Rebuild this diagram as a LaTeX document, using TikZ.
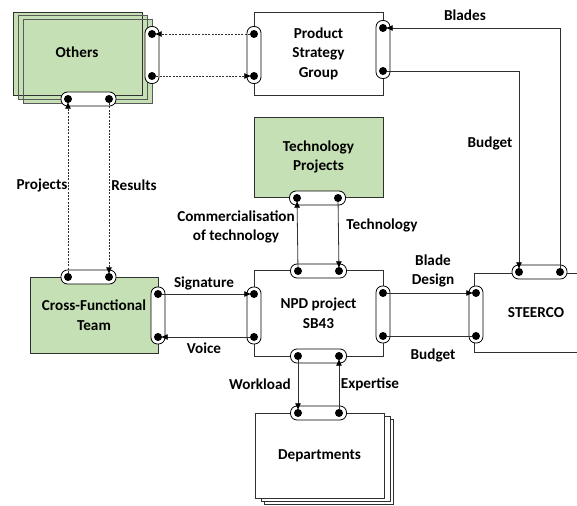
\documentclass[tikz,border=0pt]{standalone}
\usepackage{fontspec}
\setmainfont{Carlito}
\usetikzlibrary{arrows.meta}
\definecolor{lgreen}{HTML}{C5E0B4}
\definecolor{lc}{HTML}{303030}
\tikzset{
  boxline/.style={draw=lc, line width=0.8pt},
  gbox/.style={boxline, fill=lgreen},
  wbox/.style={boxline, fill=white},
  pill/.style={draw=black, fill=white, line width=0.8pt, rounded corners=6.5pt, inner sep=0pt},
  dot/.style={circle, fill=black, minimum size=8pt, inner sep=0pt},
  lbl/.style={font=\bfseries\fontsize{15.2}{19.5}\selectfont, align=center, inner sep=0pt},
  conn/.style={draw=lc, line width=0.8pt},
  dconn/.style={conn, dash pattern=on 2pt off 1.3pt},
  tip/.style={-{Latex[length=7pt,width=6pt,black]}, shorten >=-1.5pt},
}
\begin{document}
\begin{tikzpicture}[x=1pt,y=-1pt]
\useasboundingbox (0,0) rectangle (577,505);
% Others (stacked, translucent)
\fill[lgreen] (13,12) rectangle (142,95);
\fill[lgreen] (18,15) rectangle (147,99);
\fill[lgreen] (23,19) rectangle (152,103);
\draw[draw=lc, line width=0.8pt] (13,12) rectangle (142,95);
\draw[draw=gray!70!black, line width=0.7pt] (18,15) rectangle (147,99);
\draw[draw=gray!70!black, line width=0.7pt] (23,19) rectangle (152,103);
\node[lbl] (others) at (77,52) {Others};
% Product Strategy Group
\node[wbox, minimum width=129pt, minimum height=83pt] (psg) at (318.5,53.5) {};
\node[lbl] at (psg) {Product\\Strategy\\Group};
% Technology Projects
\node[gbox, minimum width=129pt, minimum height=80pt] (tp) at (318.5,157) {};
\node[lbl] at (tp) {Technology\\Projects};
% NPD project
\node[wbox, minimum width=129pt, minimum height=86pt] (npd) at (318.5,313) {};
\node[lbl] at (npd) {NPD project\\SB43};
% Cross-Functional Team
\node[gbox, minimum width=128pt, minimum height=76pt] (cft) at (94,315) {};
\node[lbl] at (cft) {Cross-Functional\\Team};
% STEERCO (cut by the right edge)
\node[lbl] (st) at (536,313) {STEERCO};
\draw[boxline] (577,273) -- (474,273) -- (474,352) -- (577,352);
% Departments (stacked)
\draw[wbox] (264,419) rectangle (393,504);
\draw[wbox] (261,416) rectangle (390,501);
\node[wbox, minimum width=129pt, minimum height=85pt] (dep) at (319.5,455.5) {};
\node[lbl] at (dep) {Departments};

% pills
\node[pill, minimum width=14pt, minimum height=57pt] at (152,55) {};
\node[pill, minimum width=55pt, minimum height=14pt] at (88.5,99) {};
\node[pill, minimum width=14pt, minimum height=57pt] at (254,55) {};
\node[pill, minimum width=14pt, minimum height=58pt] at (383,49.5) {};
\node[pill, minimum width=56pt, minimum height=14pt] at (317.5,198) {};
\node[pill, minimum width=56pt, minimum height=14pt] at (318.5,271) {};
\node[pill, minimum width=14pt, minimum height=57pt] at (383,314.5) {};
\node[pill, minimum width=56pt, minimum height=14pt] at (318.5,356) {};
\node[pill, minimum width=14pt, minimum height=57pt] at (254,315.5) {};
\node[pill, minimum width=14pt, minimum height=57pt] at (158,315.5) {};
\node[pill, minimum width=55pt, minimum height=14pt] at (88.5,277) {};
\node[pill, minimum width=14pt, minimum height=57pt] at (476,314.5) {};
\node[pill, minimum width=55pt, minimum height=14pt] at (539.5,272) {};
\node[pill, minimum width=56pt, minimum height=14pt] at (318.5,413) {};

% dots
\node[dot] (oR1) at (152,34) {};
\node[dot] (oR2) at (152,76) {};
\node[dot] (oB1) at (68,99) {};
\node[dot] (oB2) at (109,99) {};
\node[dot] (pL1) at (254,34) {};
\node[dot] (pL2) at (254,76) {};
\node[dot] (pR1) at (383,28) {};
\node[dot] (pR2) at (383,71) {};
\node[dot] (tB1) at (297,198) {};
\node[dot] (tB2) at (338,198) {};
\node[dot] (nT1) at (298,271) {};
\node[dot] (nT2) at (339,271) {};
\node[dot] (nR1) at (383,293) {};
\node[dot] (nR2) at (383,336) {};
\node[dot] (nB1) at (298,356) {};
\node[dot] (nB2) at (339,356) {};
\node[dot] (nL1) at (254,294) {};
\node[dot] (nL2) at (254,337) {};
\node[dot] (cR1) at (158,294) {};
\node[dot] (cR2) at (158,337) {};
\node[dot] (cT1) at (68,277) {};
\node[dot] (cT2) at (109,277) {};
\node[dot] (sL1) at (476,293) {};
\node[dot] (sL2) at (476,336) {};
\node[dot] (sT1) at (519,272) {};
\node[dot] (sT2) at (560,272) {};
\node[dot] (dT1) at (298,413) {};
\node[dot] (dT2) at (339,413) {};

% connectors
\draw[dconn, tip] (pL1) -- (oR1);
\draw[dconn, tip] (oR2) -- (pL2);
\draw[dconn, tip] (cT1) -- (oB1);
\draw[dconn, tip] (oB2) -- (cT2);
\draw[conn, tip] (sT2) |- (pR1);
\draw[conn, tip] (pR2) -| (sT1);
\draw[conn, tip] (nT1) -- (tB1);
\draw[conn, tip] (tB2) -- (nT2);
\draw[conn, tip] (cR1) -- (nL1);
\draw[conn, tip] (nL2) -- (cR2);
\draw[conn, tip] (nR1) -- (sL1);
\draw[conn] (sL2) -- (nR2);
\draw[conn, tip] (nB1) -- (dT1);
\draw[conn, tip] (dT2) -- (nB2);

% labels
\node[lbl] (lBlades) at (465,15) {Blades};
\node[lbl] (lBudget1) at (490,143) {Budget};
\node[lbl] (lProj) at (42,185) {Projects};
\node[lbl] (lRes) at (134,185) {Results};
\node[lbl] (lComm) at (236,227) {Commercialisation\\of technology};
\node[lbl] (lTech) at (382,225) {Technology};
\node[lbl] (lSig) at (204,283) {Signature};
\node[lbl] (lVoice) at (204,348) {Voice};
\node[lbl] (lBD) at (433,271) {Blade\\Design};
\node[lbl] (lBudget2) at (433,355) {Budget};
\node[lbl] (lWork) at (260,384) {Workload};
\node[lbl] (lExp) at (370,384) {Expertise};
\end{tikzpicture}
\end{document}
